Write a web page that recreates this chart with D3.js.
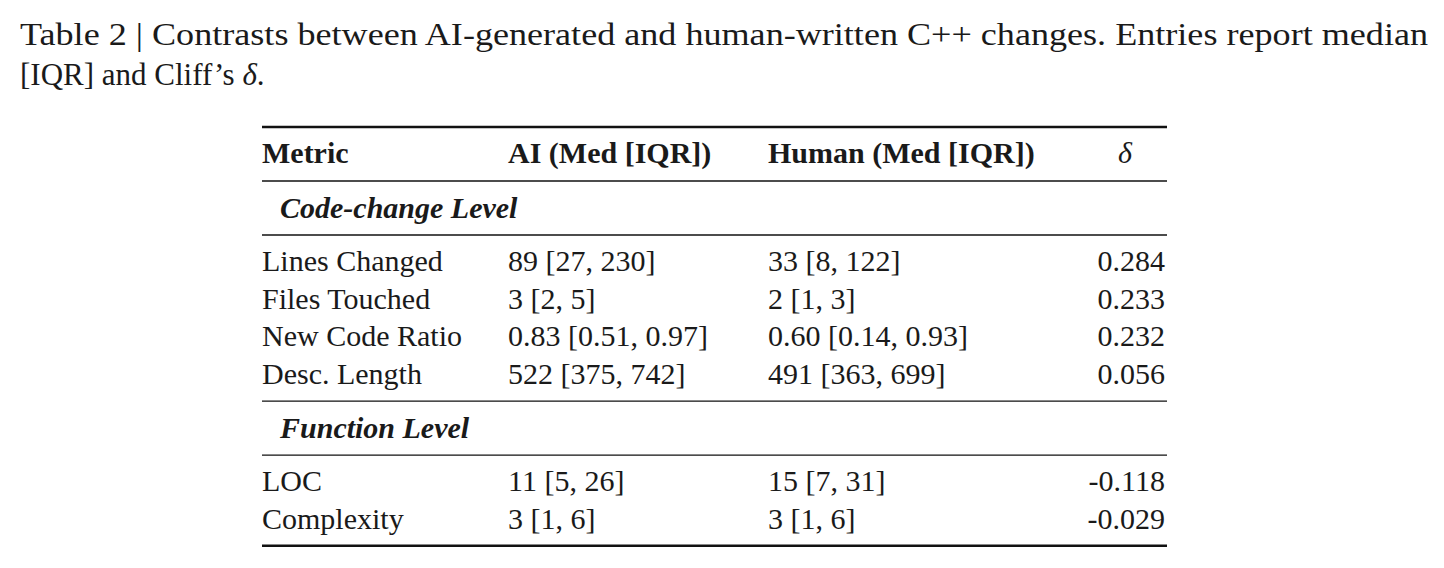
<!DOCTYPE html>
<html><head><meta charset="utf-8">
<script src="https://cdn.jsdelivr.net/npm/d3@7"></script>
<style>body{margin:0;background:#fff}svg{display:block}</style>
</head><body><svg id="t"></svg>
<script>
const header = ["Metric", "AI (Med [IQR])", "Human (Med [IQR])", "δ"];
const groups = ["Code-change Level", "Function Level"];
const metrics = [["Lines Changed", "Files Touched", "New Code Ratio", "Desc. Length"], ["LOC", "Complexity"]];
const aiVals = [["89 [27, 230]", "3 [2, 5]", "0.83 [0.51, 0.97]", "522 [375, 742]"], ["11 [5, 26]", "3 [1, 6]"]];
const humanVals = [["33 [8, 122]", "2 [1, 3]", "0.60 [0.14, 0.93]", "491 [363, 699]"], ["15 [7, 31]", "3 [1, 6]"]];
const deltas = [["0.284", "0.233", "0.232", "0.056"], ["-0.118", "-0.029"]];

const W = 1444, H = 568, font = "'Liberation Serif', serif", fs = 30;
const svg = d3.select("#t").attr("width", W).attr("height", H).style("font-family", font).style("fill", "#1a1a1a");

// caption
const cap = svg.append("g").style("font-size", "31px");
cap.append("text").attr("x", 20).attr("y", 45).attr("textLength", 1408).attr("lengthAdjust", "spacingAndGlyphs")
  .text("Table 2 | Contrasts between AI-generated and human-written C++ changes. Entries report median");
const c2 = cap.append("text").attr("x", 20).attr("y", 85);
c2.append("tspan").text("[IQR] and Cliff’s ");
c2.append("tspan").style("font-style", "italic").text("δ");
c2.append("tspan").text(".");

const x = d3.scaleOrdinal().domain([0, 1, 2, 3]).range([262, 508, 768, 1165]);
const left = 262, right = 1167;
const rowH = 37.7;
const g = svg.append("g").style("font-size", fs + "px");

function rule(y, w) {
  g.append("line").attr("x1", left).attr("x2", right).attr("y1", y).attr("y2", y)
    .attr("stroke", "#111").attr("stroke-width", w);
}

rule(127, 2.4);
g.selectAll(".h").data(header).join("text")
  .attr("x", (d, i) => i === 3 ? 1125 : x(i)).attr("y", 163)
  .attr("text-anchor", (d, i) => i === 3 ? "middle" : "start")
  .style("font-weight", (d, i) => i === 3 ? "normal" : "bold")
  .style("font-style", (d, i) => i === 3 ? "italic" : "normal")
  .text(d => d);
rule(181, 1.4);

let y0 = 181;
groups.forEach((grp, gi) => {
  g.append("text").attr("x", 280).attr("y", y0 + 37).style("font-weight", "bold").style("font-style", "italic").text(grp);
  rule(y0 + 54, 1.4);
  const yRow = d3.scaleLinear().domain([0, 1]).range([y0 + 90, y0 + 90 + rowH]);
  const rows = metrics[gi].map((m, i) => [m, aiVals[gi][i], humanVals[gi][i], deltas[gi][i]]);
  rows.forEach((r, ri) => {
    g.selectAll(null).data(r).join("text")
      .attr("x", (d, i) => x(i)).attr("y", yRow(ri))
      .attr("text-anchor", (d, i) => i === 3 ? "end" : "start")
      .text(d => d);
  });
  y0 = yRow(rows.length - 1) + 17;
  rule(y0, gi === groups.length - 1 ? 2.4 : 1.4);
});
</script></body></html>
